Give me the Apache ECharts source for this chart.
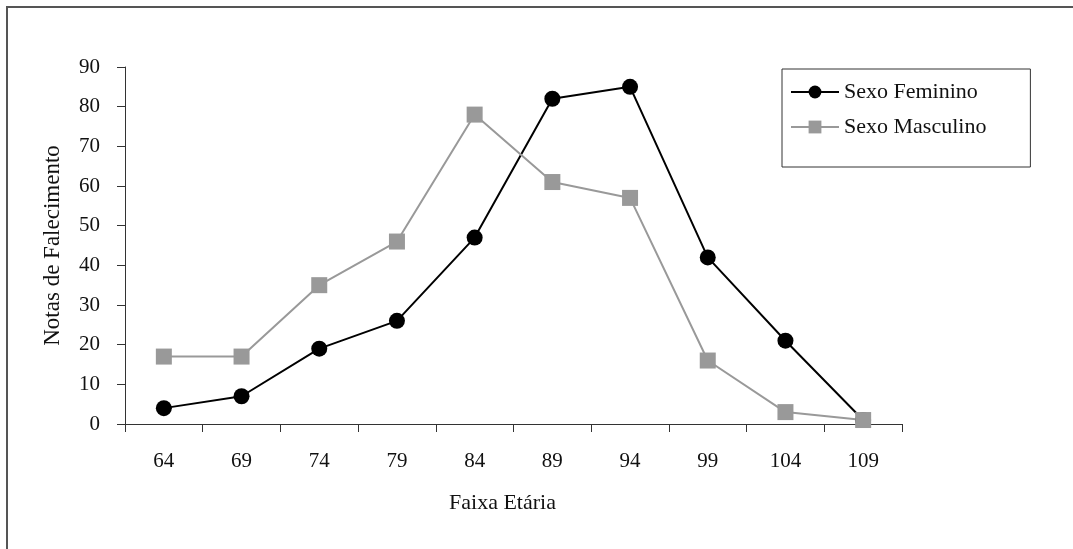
<!DOCTYPE html>
<html><head><meta charset="utf-8">
<script src="https://cdn.jsdelivr.net/npm/echarts@6/dist/echarts.min.js"></script>
<style>html,body{margin:0;padding:0;background:#fff}#c{width:1073px;height:549px}</style>
</head><body><div id="c"></div>
<script>
var categories = ['64','69','74','79','84','89','94','99','104','109'];
var feminino = [4,7,19,26,47,82,85,42,21,1];
var masculino = [17,17,35,46,78,61,57,16,3,1];
var FONT = 'Liberation Serif';
var chart = echarts.init(document.getElementById('c'));
chart.setOption({
  animation:false,
  backgroundColor:'#fff',
  textStyle:{fontFamily:FONT},
  graphic:[{type:'rect',shape:{x:7,y:7,width:1100,height:600},style:{fill:'none',stroke:'#555',lineWidth:2},silent:true}],
  grid:{left:125,right:171,top:67,bottom:125,containLabel:false},
  legend:{
    orient:'vertical',left:782,top:69,itemWidth:48,itemHeight:16,itemGap:13,
    textStyle:{fontFamily:FONT,fontSize:22,color:'#111'},
    borderColor:'#333',borderWidth:1,padding:[12,44,29,8],
    data:['Sexo Feminino','Sexo Masculino']
  },
  xAxis:{type:'category',data:categories,boundaryGap:true,
    axisLine:{lineStyle:{color:'#333',width:1}},
    axisTick:{show:true,length:8,lineStyle:{color:'#333'}},
    axisLabel:{fontFamily:FONT,fontSize:21,color:'#111',margin:27},
    name:'Faixa Etária',nameLocation:'middle',nameGap:68,
    nameTextStyle:{fontFamily:FONT,fontSize:22,color:'#111',padding:[0,22,0,0]}
  },
  yAxis:{type:'value',min:0,max:90,interval:10,
    axisLine:{show:true,lineStyle:{color:'#333',width:1}},
    axisTick:{show:true,length:8,lineStyle:{color:'#333'}},
    splitLine:{show:false},
    axisLabel:{fontFamily:FONT,fontSize:21,color:'#111',margin:25},
    name:'Notas de Falecimento',nameLocation:'middle',nameGap:61,
    nameTextStyle:{fontFamily:FONT,fontSize:23,color:'#111'}
  },
  series:[
    {name:'Sexo Feminino',type:'line',data:feminino,symbol:'circle',symbolSize:16,
     lineStyle:{color:'#000',width:2},itemStyle:{color:'#000'}},
    {name:'Sexo Masculino',type:'line',data:masculino,symbol:'rect',symbolSize:16,
     lineStyle:{color:'#999',width:2},itemStyle:{color:'#999'}}
  ]
});
</script></body></html>
